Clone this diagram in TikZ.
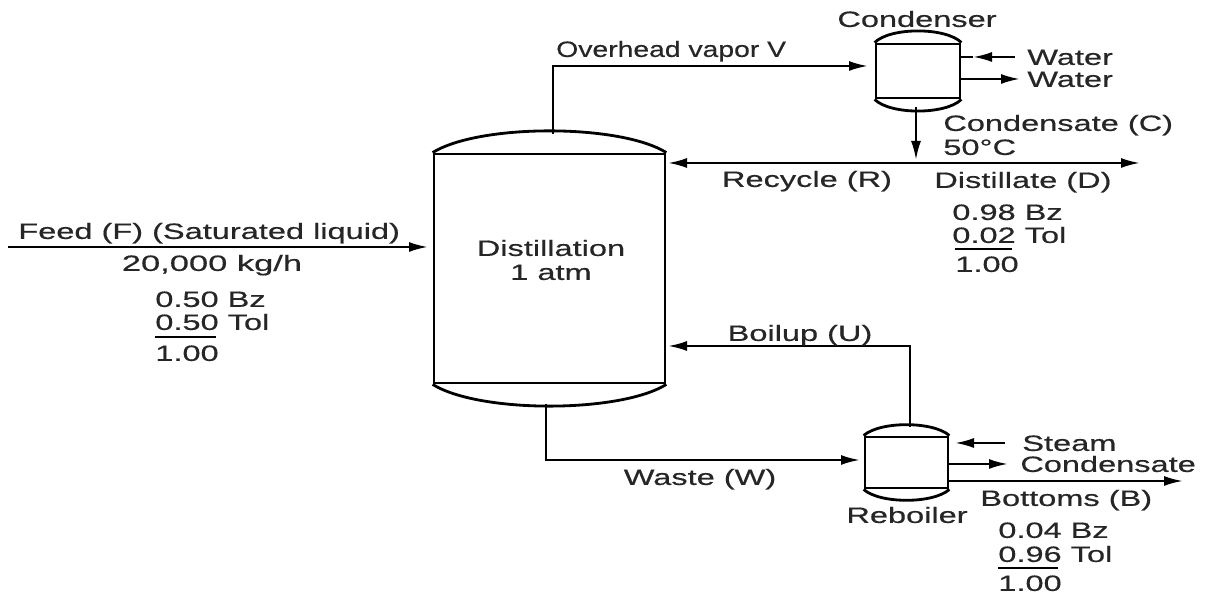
\documentclass[tikz,border=0pt]{standalone}
\usepackage{fontspec}
\setmainfont[FakeStretch=1.47,FakeBold=0.5]{Liberation Sans}
\usetikzlibrary{arrows.meta}
\tikzset{
  vessel/.style={draw,line width=1.6pt,inner sep=0pt},
  dome/.style={line width=1.6pt},
  flow/.style={line width=1.3pt,-{Latex[length=.38cm,width=.2cm]}},
  pipe/.style={line width=1.3pt},
  rulebar/.style={line width=1.1pt},
  tag/.style={inner sep=0pt,text height=9pt,text depth=0pt,font=\fontsize{12.6}{15}\selectfont,text=black!85},
}
\begin{document}
\begin{tikzpicture}[x=.02cm,y=.02cm]
\useasboundingbox (0,0) rectangle (1208,594);

\node[vessel,minimum width=4.62cm,minimum height=4.58cm] (column) at (549.5,325.5) {};
\draw[dome] (column.north west) to [out=32,in=148,looseness=.6] (column.north east);
\draw[dome] (column.south west) to [out=-32,in=-148,looseness=.6] (column.south east);

\node[vessel,minimum width=1.68cm,minimum height=1.08cm] (condenser) at (918,523) {};
\draw[dome] (condenser.north west) to [out=45,in=135,looseness=.65] (condenser.north east);
\draw[dome] (condenser.south west) to [out=-45,in=-135,looseness=.65] (condenser.south east);

\node[vessel,minimum width=1.66cm,minimum height=1.02cm] (reboiler) at (906.5,131.5) {};
\draw[dome] (reboiler.north west) to [out=42,in=138,looseness=.65] (reboiler.north east);
\draw[dome] (reboiler.south west) to [out=-42,in=-138,looseness=.65] (reboiler.south east);

\coordinate (columntop)    at (553,460);
\coordinate (columnbottom) at (546,190);
\coordinate (condenserin)  at (868,528);
\coordinate (condenserout) at (916,487);
\coordinate (joint)        at (916,434);
\coordinate (recycleend)   at (668,431);
\coordinate (distillateend) at (1140,431);
\coordinate (waterstart)   at (1015,537);
\coordinate (watertip)     at (973,537);
\coordinate (waterend)     at (1020,515);
\coordinate (steamstart)   at (1005,151);
\coordinate (steamend)     at (955,151);
\coordinate (condensateend) at (1008,130);
\coordinate (bottomsend)   at (1183,113);
\coordinate (reboilertop)  at (910,167);
\coordinate (boilupend)    at (668,248);
\coordinate (reboilerin)   at (860,134);
\coordinate (feedstart)    at (8,347);
\coordinate (feedend)      at (428,347);

\draw[flow] (columntop) |- (condenserin);
\draw[flow] (condenserout) -- (joint);
\draw[flow,{Latex[length=.38cm,width=.2cm]}-{Latex[length=.38cm,width=.2cm]}] (recycleend) -- (distillateend);
\draw[flow] (waterstart) -- (watertip);
\draw[pipe] (watertip) -- (condenser.east |- watertip);
\draw[flow] (condenser.east |- waterend) -- (waterend);
\draw[flow] (steamstart) -- (steamend);
\draw[flow] (reboiler.east |- condensateend) -- (condensateend);
\draw[flow] (reboiler.east |- bottomsend) -- (bottomsend);
\draw[flow] (reboilertop) |- (boilupend);
\draw[flow] (columnbottom) |- (reboilerin);
\draw[flow] (feedstart) -- (feedend);

\node[tag] (condensertag) at (917,575) {Condenser};
\node[tag,anchor=west,xscale=.87,transform shape] (overheadtag) at (556,545) {Overhead vapor V};
\node[tag,anchor=west] (waterintag) at (1027,537) {Water};
\node[tag,anchor=west] (waterouttag) at (1027,515) {Water};
\node[tag,anchor=west] (condensatetag) at (943,471) {Condensate (C)};
\node[tag,anchor=west] (temptag) at (943,447) {50°C};
\node[tag] (recycletag) at (807,415) {Recycle (R)};
\node[tag,anchor=west] (distillatetag) at (934,414) {Distillate (D)};
\node[tag,anchor=west] (dbz) at (952,382) {0.98 Bz};
\node[tag,anchor=west] (dtol) at (952,359) {0.02 Tol};
\node[tag,anchor=west] (dsum) at (955,330) {1.00};

\node[tag] (distillationtag) at (551,346) {Distillation};
\node[tag] (atmtag) at (551,322) {1 atm};

\node[tag,anchor=west] (feedtag) at (18,363) {Feed (F) (Saturated liquid)};
\node[tag,xscale=1.06,transform shape] (ratetag) at (212,331) {20,000 kg/h};
\node[tag,anchor=west] (fbz) at (155,295) {0.50 Bz};
\node[tag,anchor=west] (ftol) at (155,272) {0.50 Tol};
\node[tag,anchor=west] (fsum) at (155,241) {1.00};

\node[tag] (boiluptag) at (800,261) {Boilup (U)};
\node[tag] (wastetag) at (700,117) {Waste (W)};
\node[tag,anchor=west] (steamtag) at (1022,151) {Steam};
\node[tag,anchor=west] (condensateouttag) at (1020,130) {Condensate};
\node[tag,anchor=west] (bottomstag) at (980,96) {Bottoms (B)};
\node[tag] (reboilertag) at (907,79) {Reboiler};
\node[tag,anchor=west] (bbz) at (998,64) {0.04 Bz};
\node[tag,anchor=west] (btol) at (998,40) {0.96 Tol};
\node[tag,anchor=west] (bsum) at (998,11) {1.00};

\coordinate (drulea) at (955,345);
\coordinate (druleb) at (1012,345);
\coordinate (frulea) at (155,257);
\coordinate (fruleb) at (216,257);
\coordinate (brulea) at (998,26);
\coordinate (bruleb) at (1058,26);
\draw[rulebar] (drulea) -- (druleb);
\draw[rulebar] (frulea) -- (fruleb);
\draw[rulebar] (brulea) -- (bruleb);

\end{tikzpicture}
\end{document}
